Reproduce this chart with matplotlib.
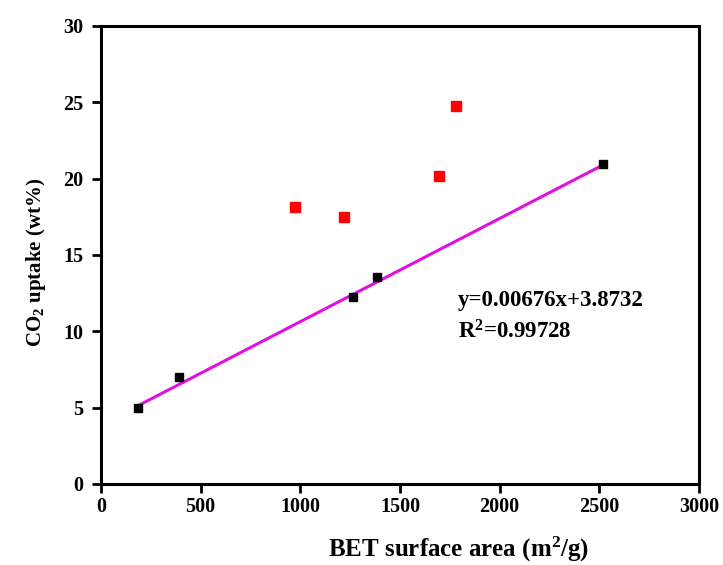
import matplotlib
matplotlib.use("Agg")
import matplotlib.pyplot as plt
import numpy as np

plt.rcParams['font.family'] = ['Liberation Serif', 'DejaVu Serif']
plt.rcParams['font.weight'] = 'bold'
plt.rcParams['mathtext.fontset'] = 'custom'
plt.rcParams['mathtext.rm'] = 'Liberation Serif:bold'
plt.rcParams['mathtext.it'] = 'Liberation Serif:bold'
plt.rcParams['mathtext.bf'] = 'Liberation Serif:bold'

# Data
black_x = [187, 391, 1263, 1386, 2520]
black_y = [4.96, 6.99, 12.27, 13.54, 20.96]
red_x = [973, 1221, 1696, 1781]
red_y = [18.16, 17.47, 20.19, 24.77]
slope = 0.00676
intercept = 3.8732
r2 = 0.99728
x_ticks = [0, 500, 1000, 1500, 2000, 2500, 3000]
y_ticks = [0, 5, 10, 15, 20, 25, 30]

fig = plt.figure(figsize=(7.23, 5.65), dpi=100)
ax = fig.add_axes([0.1397, 0.1434, 0.9668 - 0.1397, 0.954 - 0.1434])

fx = np.array([min(black_x), max(black_x)])
ax.plot(fx, slope * fx + intercept, color='#E010E0', lw=2.2, zorder=2)
ax.plot(black_x, black_y, 's', color='black', ms=6, zorder=3)
ax.plot(red_x, red_y, 's', color='#FF0000', ms=6.5, zorder=3)

ax.text(1790, 12.05, f'y={slope}x+{intercept}', fontsize=16.5, fontweight='bold', va='center')
ax.text(1790, 9.95, f'R$^2$={r2}', fontsize=16.5, fontweight='bold', va='center')

ax.set_xlim(0, 3000)
ax.set_ylim(0, 30)
ax.set_xticks(x_ticks)
ax.set_yticks(y_ticks)
ax.tick_params(axis='both', direction='out', length=6.5, width=2, labelsize=14.5)
ax.tick_params(axis='x', pad=3)
ax.tick_params(axis='y', pad=6)
for lab in ax.get_xticklabels() + ax.get_yticklabels():
    lab.set_fontweight('bold')
for s in ax.spines.values():
    s.set_linewidth(2.2)

fig.text(459 / 723, 1 - 549 / 565, 'BET surface area (m$^2$/g)', fontsize=18,
         fontweight='bold', ha='center', va='center')
fig.text(36 / 723, 1 - 262 / 565, 'CO$_2$ uptake (wt%)', fontsize=15,
         fontweight='bold', ha='center', va='center', rotation=90)

fig.savefig('out.png', dpi=100)
